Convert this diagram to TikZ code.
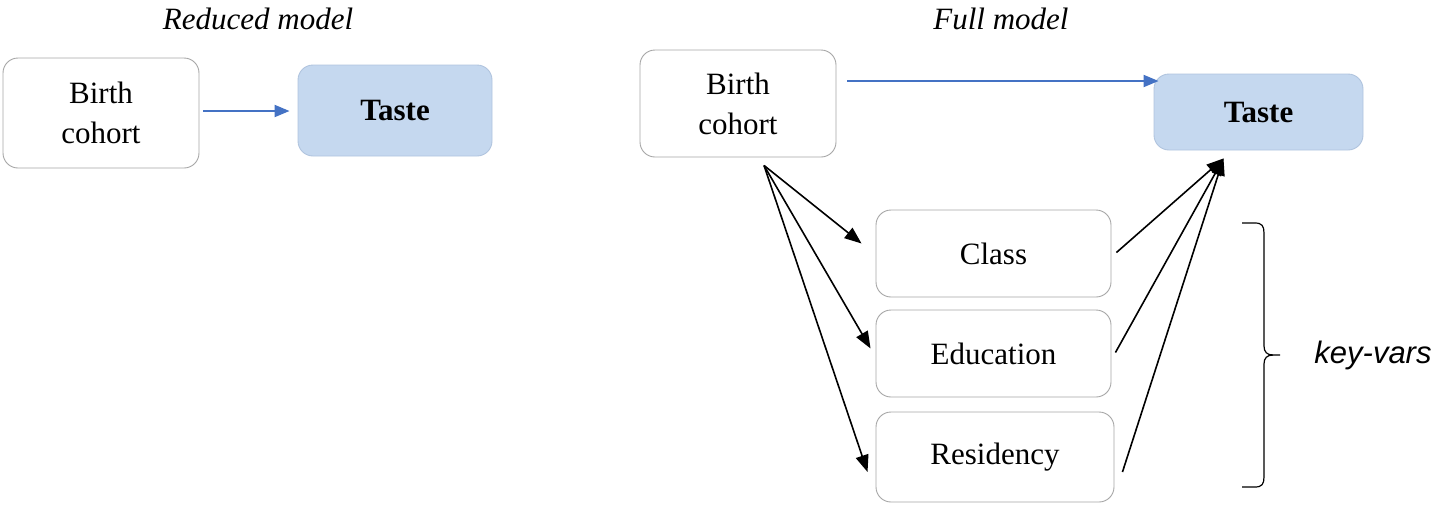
\documentclass[tikz,border=0pt]{standalone}
\usepackage{fontspec}
\setmainfont{Liberation Serif}
\newfontfamily\keyfont{Liberation Sans}
\usetikzlibrary{arrows.meta,calc}
\definecolor{boxline}{HTML}{A6A6A6}
\definecolor{tastefill}{HTML}{C5D8EF}
\definecolor{tasteline}{HTML}{B0C4DE}
\definecolor{bluearrow}{HTML}{4472C4}
\tikzset{
  varbox/.style={draw=boxline, line width=0.9pt, rounded corners=15pt, fill=white, align=center, inner sep=0pt,
    font=\fontsize{31}{40}\selectfont},
  tastebox/.style={varbox, draw=tasteline, fill=tastefill, font=\fontsize{31}{40}\selectfont\bfseries},
  bluearr/.style={draw=bluearrow, line width=2pt, -{Triangle[length=15pt,width=12pt]}},
  blackarr/.style={draw=black, line width=1.6pt, -{Triangle[length=17pt,width=13pt]}},
  title/.style={font=\fontsize{31}{36}\selectfont\itshape}
}
\begin{document}
\begin{tikzpicture}[x=1pt,y=-1pt]
\useasboundingbox (0,0) rectangle (1436,507);
% titles
\node[title] (t1) at (258,19) {Reduced model};
\node[title] (t2) at (1001,19) {Full model};
% reduced model
\node[varbox, minimum width=196pt, minimum height=110pt] (bc1) at (101,113) {Birth\\cohort};
\node[tastebox, minimum width=194pt, minimum height=91pt] (ta1) at (395,110.5) {Taste};
\draw[bluearr] ($(bc1.east)+(4,-2)$) -- ($(ta1.west)+(-8,0.5)$);
% full model
\node[varbox, minimum width=196pt, minimum height=107pt] (bc2) at (738,103.5) {Birth\\cohort};
\node[tastebox, minimum width=209pt, minimum height=76pt] (ta2) at (1258.5,112) {Taste};
\node[varbox, minimum width=235pt, minimum height=87pt] (cls) at (993.5,253.5) {Class};
\node[varbox, minimum width=235pt, minimum height=87pt] (edu) at (993.5,353.5) {Education};
\node[varbox, minimum width=238pt, minimum height=90pt] (res) at (995,457) {Residency};
\draw[bluearr] ($(bc2.east)+(11,-22.5)$) -- ($(ta2.west)+(5,-31)$);
\coordinate (src) at ($(bc2.south)+(26,8)$);
\coordinate (dst) at ($(ta2.south)+(-35,8)$);
\draw[blackarr] (src) -- ($(cls.west)+(-14,-10)$);
\draw[blackarr] (src) -- ($(edu.west)+(-5,-5)$);
\draw[blackarr] (src) -- ($(res.west)+(-8,15)$);
\draw[blackarr] ($(cls.east)+(5,-1)$) -- (dst);
\draw[blackarr] ($(edu.east)+(4,-1)$) -- (dst);
\draw[blackarr] ($(res.east)+(8,15)$) -- (dst);
% brace
\draw[line width=1.2pt, line join=round] (1242,223) -- (1255,223) .. controls (1262,223) and (1264,226) .. (1264,233)
  -- (1264,346) .. controls (1264,352) and (1267,355) .. (1273,355) -- (1280,355);
\draw[line width=1.2pt, line join=round] (1273,355) .. controls (1267,355) and (1264,358) .. (1264,364)
  -- (1264,477) .. controls (1264,484) and (1262,487) .. (1255,487) -- (1242,487);
\node[font=\fontsize{31}{36}\selectfont\keyfont\itshape] (kv) at (1373,355) {key-vars};
\end{tikzpicture}
\end{document}
